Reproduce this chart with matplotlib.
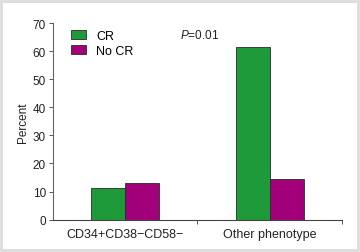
import matplotlib
matplotlib.use("Agg")
import matplotlib.pyplot as plt
import numpy as np
from matplotlib.patches import Rectangle

plt.rcParams['font.family'] = ['Liberation Sans', 'DejaVu Sans']
plt.rcParams['mathtext.fontset'] = 'custom'
plt.rcParams['mathtext.it'] = 'Liberation Sans:italic'
plt.rcParams['mathtext.rm'] = 'Liberation Sans'

categories = ["CD34+CD38\u2212CD58\u2212", "Other phenotype"]
cr_values = [11.4, 61.5]
no_cr_values = [13.0, 14.3]
series_names = ["CR", "No CR"]

green = "#1f9a3b"
purple = "#a1007a"

fig = plt.figure(figsize=(3.6, 2.53), dpi=100)
ax = fig.add_axes([0.147, 0.128, 0.803, 0.777])

x = np.arange(len(categories))
w = 0.235
ax.bar(x - w / 2, cr_values, w, color=green, edgecolor="#2b2b2b", linewidth=0.6, label=series_names[0])
ax.bar(x + w / 2, no_cr_values, w, color=purple, edgecolor="#2b2b2b", linewidth=0.6, label=series_names[1])

ax.set_xlim(-0.5, 1.5)
ax.set_ylim(0, 70)
ax.set_yticks(range(0, 71, 10))
ax.set_xticks(x)
ax.set_xticklabels(categories)
ax.set_xticks([0.5, 1.5], minor=True)
ax.tick_params(axis="x", which="major", length=0, pad=6, labelsize=9, colors="#222222")
ax.tick_params(axis="x", which="minor", length=3, width=0.7, color="#555555")
ax.tick_params(axis="y", length=3, width=0.7, color="#555555", labelsize=8.5, labelcolor="#222222", pad=2)
ax.set_ylabel("Percent", fontsize=8.5, color="#222222", labelpad=3)

for s in ["top", "right"]:
    ax.spines[s].set_visible(False)
ax.spines["left"].set_color("#666666")
ax.spines["bottom"].set_color("#444444")
ax.spines["left"].set_linewidth(0.8)
ax.spines["bottom"].set_linewidth(0.8)

ax.legend(loc="upper left", bbox_to_anchor=(0.045, 0.99), frameon=False, fontsize=9,
          handlelength=1.2, handleheight=0.7, handletextpad=0.8, labelspacing=0.25, borderaxespad=0)

ax.text(0.44, 0.925, "$P$=0.01", transform=ax.transAxes, fontsize=8.5, color="#222222")

fig.patches.append(Rectangle((0.004, 0.006), 0.99, 0.985, transform=fig.transFigure,
                             fill=False, edgecolor="#dcdcdc", linewidth=2))

fig.savefig("out.png", dpi=100)
